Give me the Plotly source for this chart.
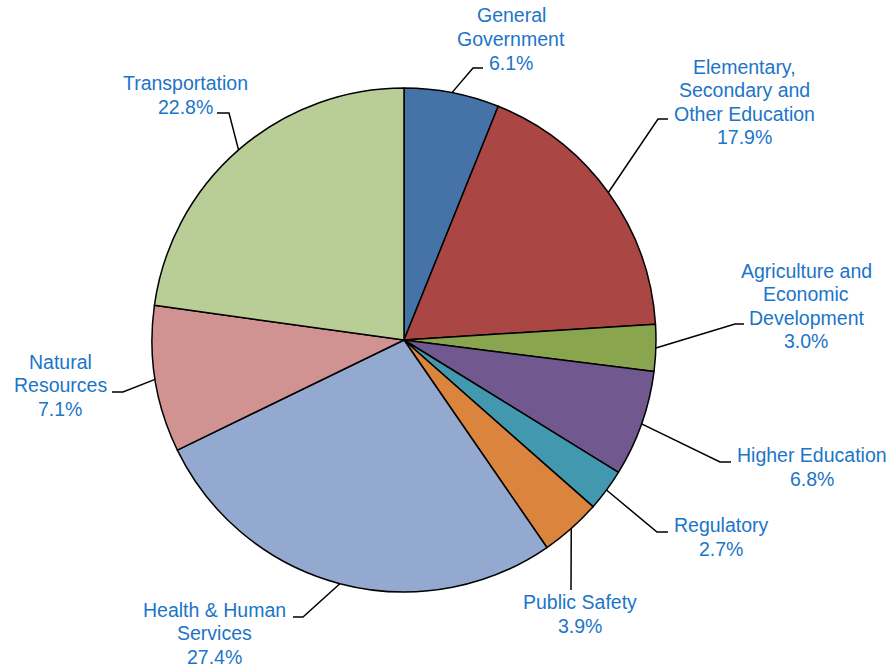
import math
import plotly.graph_objects as go

# ---- data ----
categories = [
    ["General", "Government"],
    ["Elementary,", "Secondary and", "Other Education"],
    ["Agriculture and", "Economic", "Development"],
    ["Higher Education"],
    ["Regulatory"],
    ["Public Safety"],
    ["Health & Human", "Services"],
    ["Natural", "Resources"],
    ["Transportation"],
]
# slice sizes as drawn
slice_values = [6.1, 17.9, 3.0, 6.8, 2.7, 3.9, 27.4, 9.4, 22.8]
# percentage labels as printed
pct_labels = ["6.1%", "17.9%", "3.0%", "6.8%", "2.7%", "3.9%", "27.4%", "7.1%", "22.8%"]
colors = ["#4572A7", "#AA4643", "#89A54E", "#71588F", "#4198AF",
          "#DB843D", "#93A9CF", "#D19392", "#B9CD96"]

# ---- layout (page pixels) ----
W, H = 892, 669
CX, CY, R = 404, 340, 252
# label centre positions
label_pos = [(511, 39), (744, 102), (806, 306), (812, 467), (721, 537),
             (580, 614), (214, 633), (60, 385), (185, 95)]
# leader-line elbow and end points
elbows = [(473, 68), (658, 119), (735, 324), (720, 462), (657, 532),
          (571, 590), (303, 617), (123, 392), (229, 113)]
ends = [(483, 68), (668, 119), (744, 324), (731, 462), (668, 532),
        (571, 590), (293, 617), (112, 392), (217, 113)]
TEXT_COLOR = "#1C75C8"
FONT_SIZE = 19.5
LINE_STEP = 23.5


def px(x, y):
    return x / W, 1 - y / H


fig = go.Figure()
fig.add_trace(go.Pie(
    labels=[" ".join(c) for c in categories],
    values=slice_values,
    sort=False,
    direction="clockwise",
    rotation=0,
    textinfo="none",
    hoverinfo="label+percent",
    marker=dict(colors=colors, line=dict(color="black", width=1.5)),
    domain=dict(x=[(CX - R) / W, (CX + R) / W],
                y=[(H - CY - R) / H, (H - CY + R) / H]),
    showlegend=False,
))

total = sum(slice_values)
cum = 0.0
shapes = []
annotations = []
for i, v in enumerate(slice_values):
    mid = (cum + v / 2) / total
    cum += v
    th = 2 * math.pi * mid
    sx, sy = CX + R * math.sin(th), CY - R * math.cos(th)
    p0 = px(sx, sy)
    p1 = px(*elbows[i])
    p2 = px(*ends[i])
    shapes.append(dict(
        type="path", xref="paper", yref="paper",
        path=f"M {p0[0]},{p0[1]} L {p1[0]},{p1[1]} L {p2[0]},{p2[1]}",
        line=dict(color="black", width=1.5),
    ))
    lines = categories[i] + [pct_labels[i]]
    n = len(lines)
    lx0, ly0 = label_pos[i]
    for k, t in enumerate(lines):
        yy = ly0 + (k - (n - 1) / 2) * LINE_STEP
        ax, ay = px(lx0, yy)
        annotations.append(dict(
            x=ax, y=ay, xref="paper", yref="paper",
            text=t, showarrow=False, xanchor="center", yanchor="middle",
            align="center",
            font=dict(family="Liberation Sans, Arial, sans-serif",
                      size=FONT_SIZE, color=TEXT_COLOR),
        ))

fig.update_layout(
    width=W, height=H,
    margin=dict(l=0, r=0, t=0, b=0),
    paper_bgcolor="white", plot_bgcolor="white",
    shapes=shapes, annotations=annotations,
)
fig.write_html(
    "out.html",
    config={"displayModeBar": False},
    post_script="document.body.style.margin='0';"
                "document.documentElement.style.overflow='hidden';",
)
